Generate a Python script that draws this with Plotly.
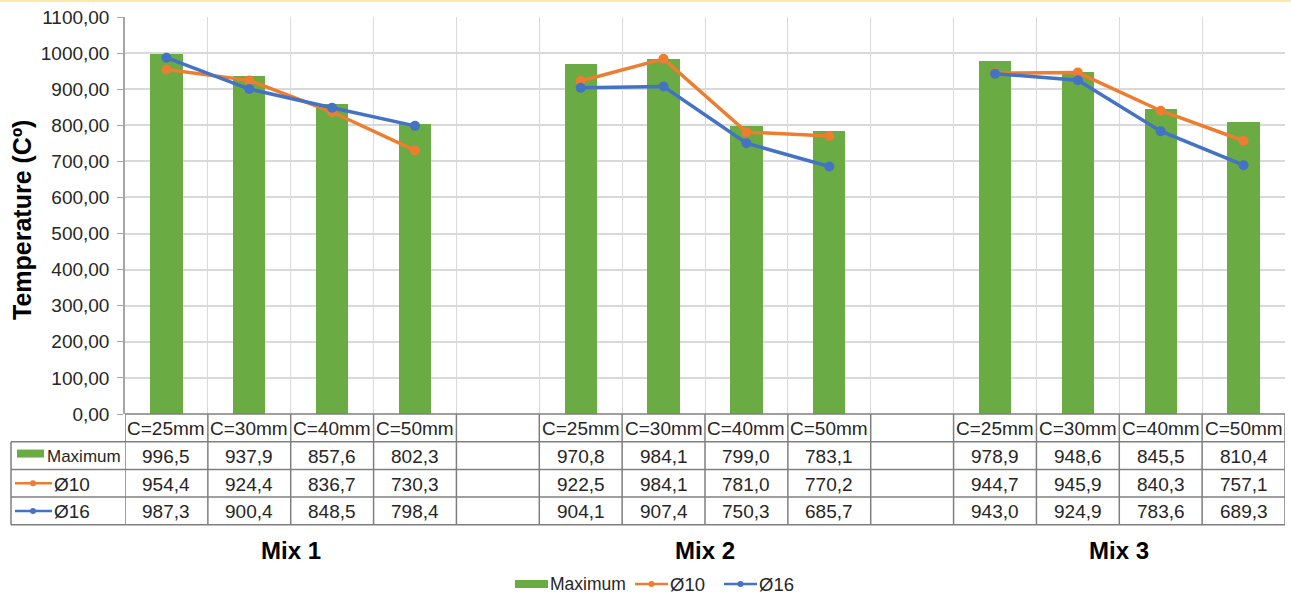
import plotly.graph_objects as go

# ---------------- data ----------------
mixes = ["Mix 1", "Mix 2", "Mix 3"]
covers = ["C=25mm", "C=30mm", "C=40mm", "C=50mm"]
series_names = ["Maximum", "Ø10", "Ø16"]
maximum = [[996.5, 937.9, 857.6, 802.3],
           [970.8, 984.1, 799.0, 783.1],
           [978.9, 948.6, 845.5, 810.4]]
d10 = [[954.4, 924.4, 836.7, 730.3],
       [922.5, 984.1, 781.0, 770.2],
       [944.7, 945.9, 840.3, 757.1]]
d16 = [[987.3, 900.4, 848.5, 798.4],
       [904.1, 907.4, 750.3, 685.7],
       [943.0, 924.9, 783.6, 689.3]]
y_ticks = list(range(0, 1101, 100))

# ---------------- style ----------------
GREEN = "#6aab43"
ORANGE = "#ed7d31"
BLUE = "#4472c4"
GRID = "#d9d9d9"
TBL = "#7f7f7f"
TXT = "#262626"
FONT = "Liberation Sans, Arial, sans-serif"

W, H = 1291, 594
L, R, T, B = 125, 6, 17, 180
PW, PH = W - L - R, H - T - B
SLOTS = len(mixes) * (len(covers) + 1) - 1  # 14


def pxx(px):
    return (px - L) / PW


def pyy(py):
    return (H - B - py) / PH


def ann(x, y, text, size, xref="paper", xanchor="center", color=TXT, **kw):
    return dict(x=x, xref=xref, y=y, yref="paper", text=text, showarrow=False,
                xanchor=xanchor, yanchor="middle",
                font=dict(size=size, color=color, family=FONT), **kw)


# slot positions
xs, ymax, y10, y16 = [], [], [], []
for m in range(len(mixes)):
    for j in range(len(covers)):
        slot = m * (len(covers) + 1) + j
        xs.append(slot + 0.5)
        ymax.append(maximum[m][j])
        y10.append(d10[m][j])
        y16.append(d16[m][j])
    if m < len(mixes) - 1:
        xs.append(m * (len(covers) + 1) + len(covers) + 0.5)
        ymax.append(None)
        y10.append(None)
        y16.append(None)

fig = go.Figure()
fig.add_trace(go.Bar(x=xs, y=ymax, width=0.39, marker_color=GREEN,
                     marker_line_width=0, name=series_names[0]))
fig.add_trace(go.Scatter(x=xs, y=y10, mode="lines+markers", connectgaps=False,
                         line=dict(color=ORANGE, width=3.5), marker=dict(size=10, color=ORANGE),
                         name=series_names[1]))
fig.add_trace(go.Scatter(x=xs, y=y16, mode="lines+markers", connectgaps=False,
                         line=dict(color=BLUE, width=3.5), marker=dict(size=10, color=BLUE),
                         name=series_names[2]))

shapes = []
annotations = []

# table row boundaries (pixels)
row_h = 27.7
rows_py = [H - B + k * row_h for k in range(5)]

for k, py in enumerate(rows_py):
    if k == 0:
        shapes.append(dict(type="line", xref="x", yref="paper", x0=0, x1=SLOTS,
                           y0=pyy(py), y1=pyy(py), line=dict(color=TBL, width=1.5)))
    else:
        shapes.append(dict(type="line", xref="paper", yref="paper", x0=pxx(11), x1=1,
                           y0=pyy(py), y1=pyy(py), line=dict(color=TBL, width=1.5)))
for s in range(SLOTS + 1):
    shapes.append(dict(type="line", xref="x", yref="paper", x0=s, x1=s,
                       y0=pyy(rows_py[0]), y1=pyy(rows_py[-1]), line=dict(color=TBL, width=1.5)))
shapes.append(dict(type="line", xref="paper", yref="paper", x0=pxx(11), x1=pxx(11),
                   y0=pyy(rows_py[1]), y1=pyy(rows_py[-1]), line=dict(color=TBL, width=1.5)))

# category header + values
for m in range(len(mixes)):
    for j in range(len(covers)):
        cx = m * (len(covers) + 1) + j + 0.5
        annotations.append(ann(cx, pyy((rows_py[0] + rows_py[1]) / 2 + 1), covers[j], 19, xref="x"))
        for r, vals in enumerate([maximum, d10, d16]):
            txt = f"{vals[m][j]:.1f}".replace(".", ",")
            annotations.append(ann(cx, pyy((rows_py[r + 1] + rows_py[r + 2]) / 2 + 1), txt, 19, xref="x"))
    annotations.append(ann(m * (len(covers) + 1) + 2, pyy(550), "<b>" + mixes[m] + "</b>", 24,
                           xref="x", color="#000000"))

# row keys in table
colors = [GREEN, ORANGE, BLUE]
for r in range(3):
    cy = (rows_py[r + 1] + rows_py[r + 2]) / 2
    if r == 0:
        shapes.append(dict(type="rect", xref="paper", yref="paper", x0=pxx(17), x1=pxx(44),
                           y0=pyy(cy - 6), y1=pyy(cy + 2), fillcolor=GREEN, line_width=0))
        annotations.append(ann(pxx(45), pyy(cy + 1), series_names[r], 17, xanchor="left"))
    else:
        shapes.append(dict(type="line", xref="paper", yref="paper", x0=pxx(15), x1=pxx(52),
                           y0=pyy(cy), y1=pyy(cy), line=dict(color=colors[r], width=2.5)))
        shapes.append(dict(type="circle", xref="paper", yref="paper", x0=pxx(30), x1=pxx(36),
                           y0=pyy(cy - 3), y1=pyy(cy + 3), fillcolor=colors[r], line_width=0))
        annotations.append(ann(pxx(52), pyy(cy + 1), series_names[r], 19, xanchor="left"))

# bottom legend
LY = 584
shapes.append(dict(type="rect", xref="paper", yref="paper", x0=pxx(515), x1=pxx(548),
                   y0=pyy(LY - 4), y1=pyy(LY + 4), fillcolor=GREEN, line_width=0))
annotations.append(ann(pxx(548), pyy(LY), series_names[0], 17.5, xanchor="left"))
for k, (x0, col) in enumerate([(635, ORANGE), (724, BLUE)]):
    shapes.append(dict(type="line", xref="paper", yref="paper", x0=pxx(x0), x1=pxx(x0 + 33),
                       y0=pyy(LY), y1=pyy(LY), line=dict(color=col, width=2.5)))
    shapes.append(dict(type="circle", xref="paper", yref="paper", x0=pxx(x0 + 13.5), x1=pxx(x0 + 19.5),
                       y0=pyy(LY - 3), y1=pyy(LY + 3), fillcolor=col, line_width=0))
    annotations.append(ann(pxx(x0 + 33), pyy(LY), series_names[k + 1], 18.5, xanchor="left"))

# y-axis title
annotations.append(ann(pxx(22), pyy(220), "<b>Temperature (Cº)</b>", 25, color="#000000",
                       textangle=-90))

# top page border
shapes.append(dict(type="line", xref="paper", yref="paper", x0=pxx(0), x1=pxx(W),
                   y0=pyy(1), y1=pyy(1), line=dict(color="#fce9a6", width=2)))

fig.update_layout(
    width=W, height=H,
    margin=dict(l=L, r=R, t=T, b=B),
    paper_bgcolor="white", plot_bgcolor="white",
    showlegend=False,
    separators=", ",
    shapes=shapes,
    annotations=annotations,
    font=dict(family=FONT, color=TXT),
    bargap=0,
)
fig.update_xaxes(range=[0, SLOTS], tickmode="array", tickvals=list(range(SLOTS + 1)),
                 showticklabels=False, showgrid=True, gridcolor=GRID, gridwidth=1,
                 zeroline=False, showline=False, fixedrange=True)
fig.update_yaxes(range=[0, 1100], tickmode="array", tickvals=y_ticks, tickformat=".2f",
                 showgrid=True, gridcolor=GRID, gridwidth=1.5, zeroline=False,
                 showline=True, linecolor="#a6a6a6", linewidth=1.5,
                 ticks="outside", ticklen=6, tickcolor="#a6a6a6", ticklabelstandoff=4,
                 tickfont=dict(size=19, color=TXT, family=FONT), fixedrange=True)

fig.write_html("out.html", config={"displayModeBar": False},
               post_script="document.body.style.margin='0px';")
